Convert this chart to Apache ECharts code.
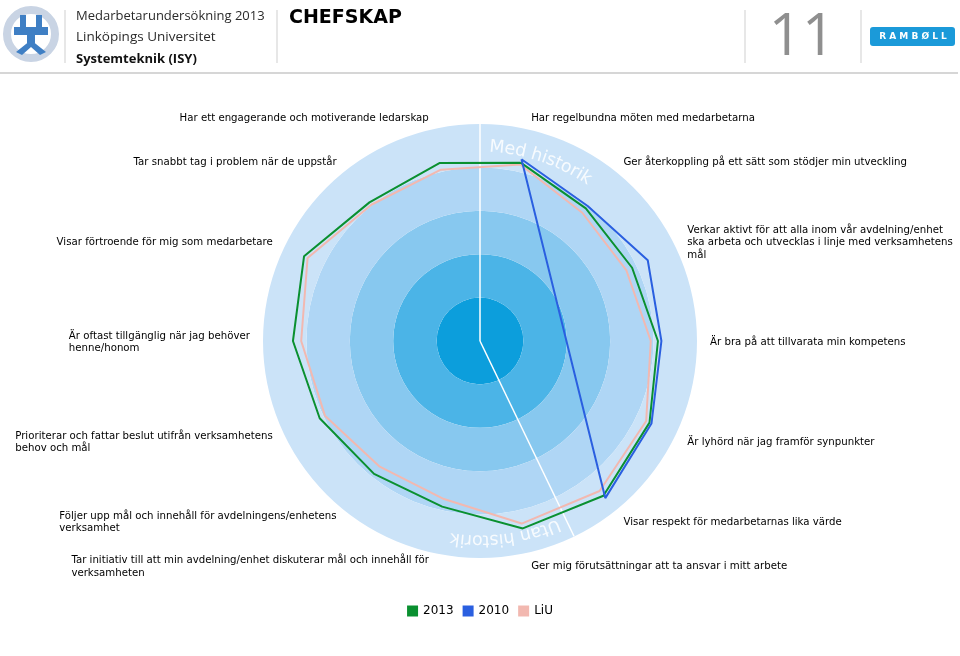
<!DOCTYPE html>
<html>
<head>
<meta charset="utf-8">
<script src="https://cdn.jsdelivr.net/npm/echarts@6/dist/echarts.min.js"></script>
<style>html,body{margin:0;padding:0;background:#fff;}#chart{width:960px;height:656px;}</style>
</head>
<body>
<div id="chart"></div>
<script>
// Categories in clockwise order starting just right of top
const categories = [
  "Har regelbundna möten med medarbetarna",
  "Ger återkoppling på ett sätt som stödjer min utveckling",
  "Verkar aktivt för att alla inom vår avdelning/enhet\nska arbeta och utvecklas i linje med verksamhetens\nmål",
  "Är bra på att tillvarata min kompetens",
  "Är lyhörd när jag framför synpunkter",
  "Visar respekt för medarbetarnas lika värde",
  "Ger mig förutsättningar att ta ansvar i mitt arbete",
  "Tar initiativ till att min avdelning/enhet diskuterar mål och innehåll för\nverksamheten",
  "Följer upp mål och innehåll för avdelningens/enhetens\nverksamhet",
  "Prioriterar och fattar beslut utifrån verksamhetens\nbehov och mål",
  "Är oftast tillgänglig när jag behöver\nhenne/honom",
  "Visar förtroende för mig som medarbetare",
  "Tar snabbt tag i problem när de uppstår",
  "Har ett engagerande och motiverande ledarskap"
];
const values2013 = [84.3, 78.2, 77.8, 82.0, 86.7, 91.2, 88.6, 78.3, 78.3, 82.0, 86.2, 90.0, 81.7, 84.1];
const values2010 = [85.9, 79.6, 85.8, 83.6, 87.7, 92.6, null, null, null, null, null, null, null, null];
const valuesLiU  = [83.4, 75.6, 74.9, 78.7, 85.0, 88.4, 86.3, 74.7, 74.1, 79.3, 82.4, 88.2, 80.3, 81.0];
const seriesNames = ["2013", "2010", "LiU"];
const historyCount = 6; // first 6 categories have history
const radiusTicks = [0, 20, 40, 60, 80, 100];

const N = categories.length;
const CX = 480, CY = 341, R = 217;
const FONT = '"DejaVu Sans", Verdana, sans-serif';

function loop(vals) {
  const pts = [];
  let first = null;
  vals.forEach((v, i) => {
    if (v === null) return;
    pts.push([v, i]);
    if (first === null) first = [v, i + N];
  });
  if (first) pts.push(first);
  return pts;
}

// curved texts
const meas = document.createElement('canvas').getContext('2d');
function arcText(txt, startDeg, radius, fontSize) {
  const font = fontSize + 'px ' + FONT;
  meas.font = font;
  const els = [];
  let acc = 0;
  for (const ch of txt) {
    const w = meas.measureText(ch).width;
    const th = startDeg * Math.PI / 180 + (acc + w / 2) / radius;
    acc += w;
    if (ch === ' ') continue;
    els.push({
      type: 'text', x: CX + radius * Math.sin(th), y: CY - radius * Math.cos(th),
      rotation: -th, z: 100,
      style: { text: ch, font: font, fill: 'rgba(255,255,255,0.85)', align: 'center', verticalAlign: 'middle' }
    });
  }
  return els;
}

const chart = echarts.init(document.getElementById('chart'));
const graphics = [
  // header lines
  { type: 'line', shape: { x1: 0, y1: 73, x2: 958, y2: 73 }, style: { stroke: '#c8c8c8', lineWidth: 1.5 } },
  { type: 'line', shape: { x1: 65, y1: 10, x2: 65, y2: 63 }, style: { stroke: '#cfcfcf', lineWidth: 1 } },
  { type: 'line', shape: { x1: 277, y1: 10, x2: 277, y2: 63 }, style: { stroke: '#cfcfcf', lineWidth: 1 } },
  { type: 'line', shape: { x1: 745, y1: 10, x2: 745, y2: 63 }, style: { stroke: '#cfcfcf', lineWidth: 1 } },
  { type: 'line', shape: { x1: 861, y1: 10, x2: 861, y2: 63 }, style: { stroke: '#cfcfcf', lineWidth: 1 } },
  // LiU logo approximation
  { type: 'circle', shape: { cx: 31, cy: 34, r: 24 }, style: { fill: 'none', stroke: '#c9d4e4', lineWidth: 8 } },
  { type: 'rect', shape: { x: 20, y: 15, width: 6, height: 14 }, style: { fill: '#3f7fc4' } },
  { type: 'rect', shape: { x: 36, y: 15, width: 6, height: 14 }, style: { fill: '#3f7fc4' } },
  { type: 'rect', shape: { x: 14, y: 27, width: 34, height: 8 }, style: { fill: '#3f7fc4' } },
  { type: 'rect', shape: { x: 27, y: 33, width: 8, height: 10 }, style: { fill: '#3f7fc4' } },
  { type: 'polygon', shape: { points: [[31, 40], [16, 52], [22, 55], [31, 47], [40, 55], [46, 52]] }, style: { fill: '#3f7fc4' } },
  // header text
  { type: 'text', style: { x: 76, y: 16, text: 'Medarbetarundersökning 2013', font: '13px "Open Sans", sans-serif', fill: '#2b2b2b', verticalAlign: 'middle' } },
  { type: 'text', style: { x: 76, y: 37, text: 'Linköpings Universitet', font: '13.5px "Open Sans", sans-serif', fill: '#2b2b2b', verticalAlign: 'middle' } },
  { type: 'text', style: { x: 76, y: 59, text: 'Systemteknik (ISY)', font: 'bold 13px "Open Sans", sans-serif', fill: '#111', verticalAlign: 'middle' } },
  { type: 'text', style: { x: 289, y: 18, text: 'CHEFSKAP', font: 'bold 19px "DejaVu Sans", sans-serif', fill: '#000', verticalAlign: 'middle' } },
  { type: 'text', style: { x: 802, y: 38, text: '11', font: '58px "Open Sans", sans-serif', fill: '#8f8f8f', align: 'center', verticalAlign: 'middle' } },
  { type: 'rect', shape: { x: 870, y: 27, width: 85, height: 19, r: 3 }, style: { fill: '#1b9ad9' } },
  { type: 'text', style: { x: 913, y: 37, text: 'R A M B Ø L L', font: 'bold 9px "DejaVu Sans", sans-serif', fill: '#fff', align: 'center', verticalAlign: 'middle' } }
].concat(arcText('Med historik', 2.8, 194, 17.5)).concat(arcText('Utan historik', 156.5, 199, 17.5));

const lineBase = (name, vals, color) => ({
  name: name, type: 'line', coordinateSystem: 'polar', data: loop(vals),
  showSymbol: false, symbol: 'none', smooth: false, clip: false, z: 3,
  itemStyle: { color: color }, lineStyle: { color: color, width: 2 }
});

const option = {
  animation: false,
  textStyle: { fontFamily: FONT },
  polar: { center: [CX, CY], radius: R },
  angleAxis: {
    type: 'value', min: 0, max: N, interval: 1, startAngle: 90 - 180 / N, clockwise: true,
    axisLine: { show: false }, axisTick: { show: false }, axisLabel: { show: false }, splitLine: { show: false }
  },
  radiusAxis: {
    type: 'value', min: radiusTicks[0], max: radiusTicks[radiusTicks.length - 1], interval: radiusTicks[1] - radiusTicks[0],
    axisLine: { show: false }, axisTick: { show: false }, axisLabel: { show: false }, splitLine: { show: false },
    splitArea: { show: true, areaStyle: { color: ['#0c9edc', '#4bb4e7', '#87c8ef', '#afd6f5', '#cbe3f8'] } }
  },
  legend: {
    data: seriesNames, top: 600, left: 'center', icon: 'rect', itemWidth: 11, itemHeight: 11, itemGap: 9,
    textStyle: { fontFamily: FONT, fontSize: 12, color: '#000' }
  },
  graphic: graphics,
  series: [
    { name: 'divider', type: 'line', coordinateSystem: 'polar', showSymbol: false, symbol: 'none', silent: true, z: 1, clip: false,
      data: [[0, N - 0.5], [100, N - 0.5]], lineStyle: { color: '#ffffff', width: 1.5 } },
    { name: 'divider2', type: 'line', coordinateSystem: 'polar', showSymbol: false, symbol: 'none', silent: true, z: 1, clip: false,
      data: [[0, historyCount - 0.5], [100, historyCount - 0.5]], lineStyle: { color: '#ffffff', width: 1.5 } },
    lineBase('LiU', valuesLiU, '#f2b8b0'),
    lineBase('2013', values2013, '#0a9030'),
    lineBase('2010', values2010, '#2a5fe0')
  ]
};
chart.setOption(option);

// category labels placed through the polar coordinate system
const labelEls = categories.map((c, i) => {
  const p = chart.convertToPixel({ polarIndex: 0 }, [106, i]);
  const right = i < N / 2;
  return {
    type: 'text', x: p[0], y: p[1] + 1.5, z: 50,
    style: {
      text: c.split('\n').map(s => '{l|' + s + '}').join('\n'),
      align: right ? 'left' : 'right', verticalAlign: 'middle',
      rich: { l: { align: 'left', fontFamily: FONT, fontSize: 10.2, lineHeight: 12.5, fill: '#000' } },
      font: '10.2px ' + FONT, fill: '#000'
    }
  };
});
chart.setOption({ graphic: graphics.concat(labelEls) });
</script>
</body>
</html>
